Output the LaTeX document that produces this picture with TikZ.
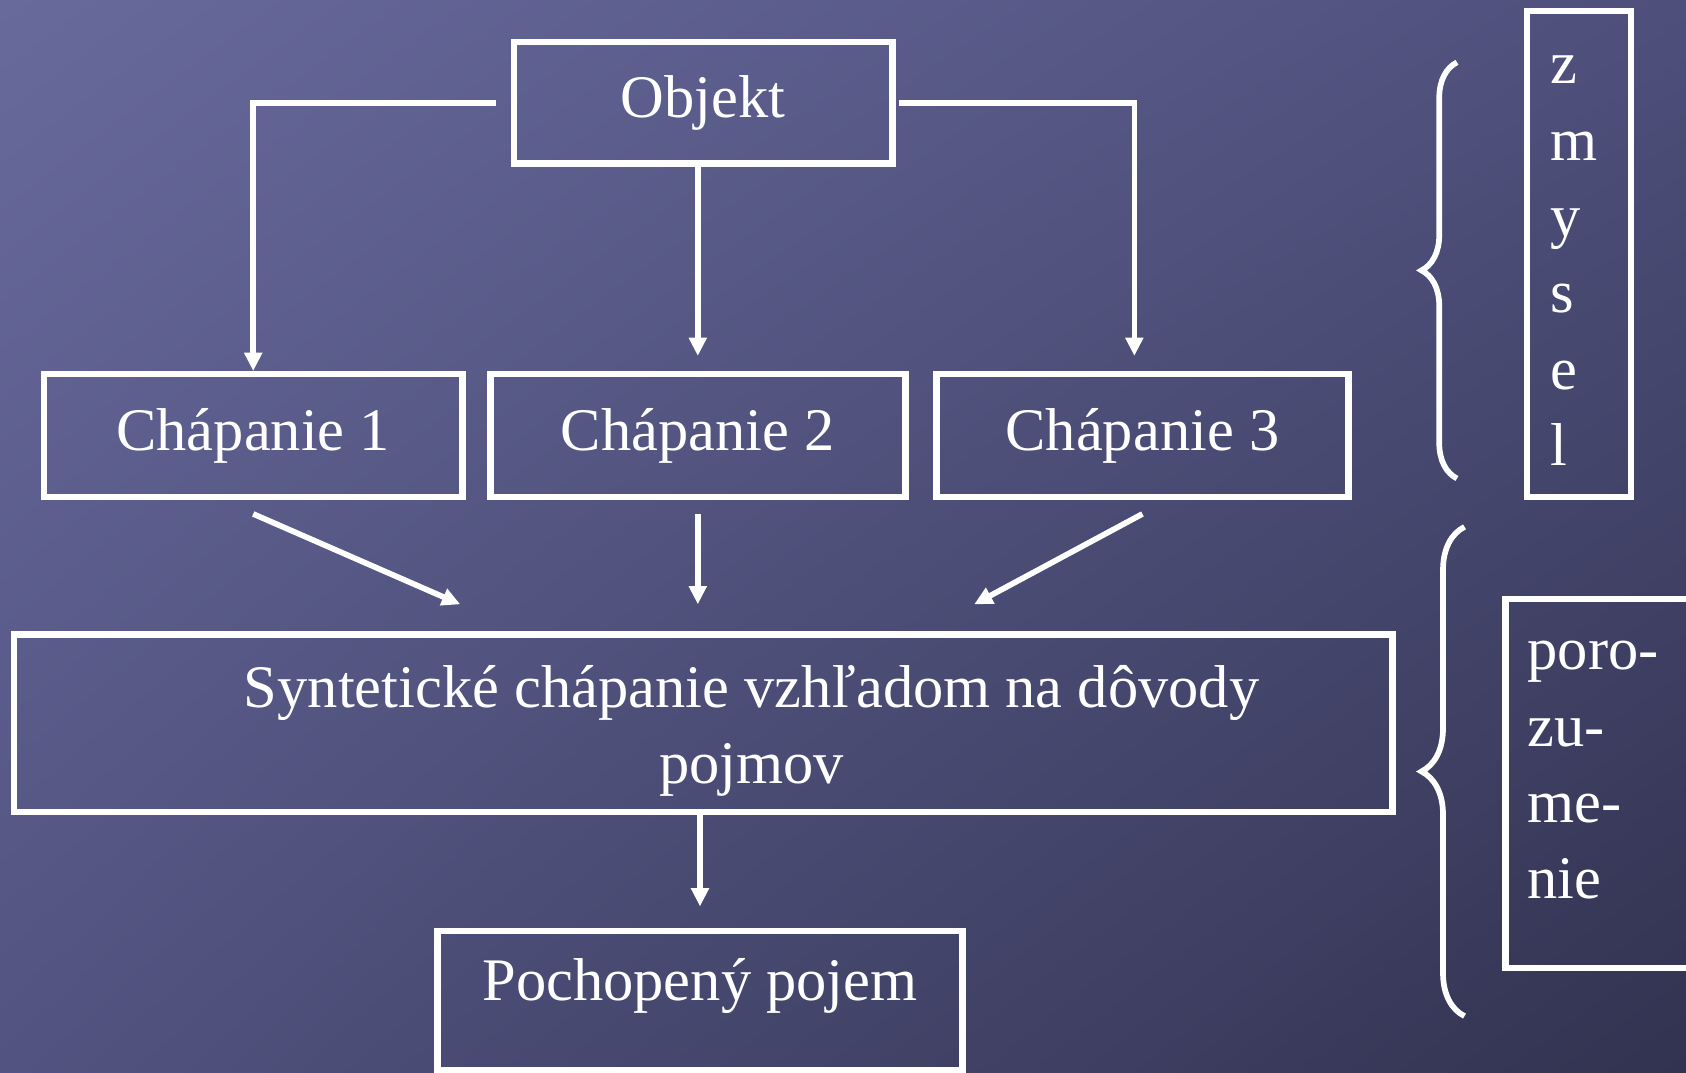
\documentclass[tikz,border=0pt]{standalone}
\usepackage{fontspec}
\setmainfont{Liberation Serif}
\usetikzlibrary{arrows.meta, positioning, calc, decorations.pathreplacing, shadings}

\definecolor{bgUL}{RGB}{104,106,156}
\definecolor{bgUR}{RGB}{78,79,123}
\definecolor{bgLL}{RGB}{82,83,128}
\definecolor{bgLR}{RGB}{50,51,80}

\begin{document}
\begin{tikzpicture}[
    font=\fontsize{16}{20.2}\selectfont,
    >={Triangle[length=0.17cm, width=0.16cm]},
    box/.style={rectangle, draw=white, line width=1.7pt, text=white, minimum height=1.14cm, align=center},
    txt/.style={text=white, inner sep=0pt},
    link/.style={->, white, line width=1.5pt},
    brc/.style={white, line width=1.5pt, decorate, decoration={brace, amplitude=#1}}
]

    % Background
    \useasboundingbox (0,0) rectangle (15.68,-9.97);
    \shade[upper left=bgUL, upper right=bgUR, lower left=bgLL, lower right=bgLR] (0,0) rectangle (15.68,-9.97);

    % --- Objekt and its three readings ---
    \node[box, minimum width=3.52cm, minimum height=1.13cm] (objekt) at (6.54,-0.955) {Objekt};
    \node[box, minimum width=3.89cm] (chap1) at (2.355,-4.05) {Chápanie 1};
    \node[box, minimum width=3.86cm, right=0.2cm of chap1] (chap2) {Chápanie 2};
    \node[box, minimum width=3.83cm, right=0.23cm of chap2] (chap3) {Chápanie 3};

    \draw[link] ([xshift=-0.14cm]objekt.west) -| (chap1.north);
    \draw[link] (chap2.north |- objekt.south) -- ([yshift=0.14cm]chap2.north);
    \draw[link] ([xshift=0.03cm]objekt.east) -| ([xshift=-0.075cm, yshift=0.14cm]chap3.north);

    % --- Synthesis ---
    \node[box, minimum width=12.82cm, minimum height=1.65cm] (synth) at (6.54,-6.725) {};
    \node[txt, align=center] (synthtext) at ([xshift=0.45cm, yshift=-0.075cm]synth.center)
        {Syntetické chápanie vzhľadom na dôvody\\pojmov};

    \draw[link] ([yshift=-0.13cm]chap1.south) -- ([xshift=-2.26cm, yshift=0.25cm]synth.north);
    \draw[link] ([yshift=-0.13cm]chap2.south) -- ($(chap2.south |- synth.north)+(0,0.25)$);
    \draw[link] ([yshift=-0.13cm]chap3.south) -- ([xshift=2.52cm, yshift=0.25cm]synth.north);

    % --- Result ---
    \node[box, minimum width=4.88cm, minimum height=1.29cm, text height=0.4cm, text depth=0.4cm] (pojem) at (6.51,-9.305) {Pochopený pojem};
    \draw[link] (pojem.north |- synth.south) -- ([yshift=0.2cm]pojem.north);

    % --- Right side: braces and vertical labels ---
    \draw[brc=0.33cm] (13.55,-4.45) -- (13.55,-0.58);
    \draw[brc=0.4cm] (13.62,-9.45) -- (13.62,-4.90);

    \node[box, minimum width=0.97cm, minimum height=4.52cm] (zmysel) at (14.685,-2.36) {};
    \node[txt, anchor=west, align=left] (zmyseltext) at ([xshift=0.24cm, yshift=-0.065cm]zmysel.west) {z\\m\\y\\s\\e\\l};

    \node[box, minimum width=2.0cm, minimum height=3.43cm] (poro) at (15.0,-7.285) {};
    \node[txt, anchor=west, align=left] (porotext) at ([xshift=0.23cm, yshift=0.12cm]poro.west) {poro-\\zu-\\me-\\nie};

\end{tikzpicture}
\end{document}
